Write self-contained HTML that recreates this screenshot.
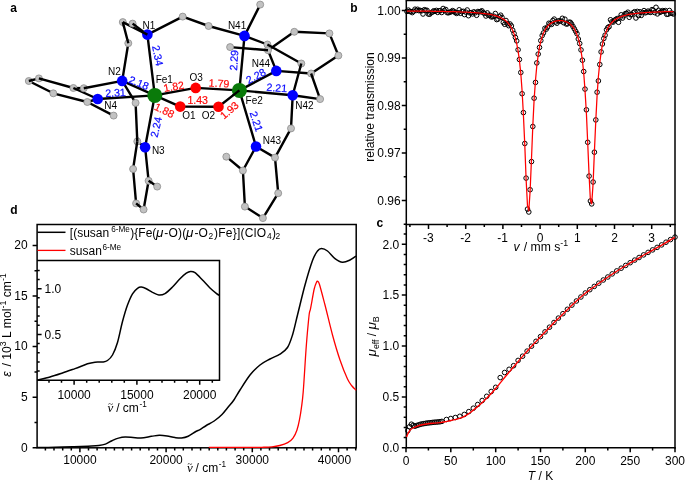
<!DOCTYPE html><html><head><meta charset="utf-8"><title>Figure</title>
<style>html,body{margin:0;padding:0;background:#fff}svg{display:block;will-change:transform}text{font-family:"Liberation Sans", Arial, sans-serif;fill:#000;stroke:none;stroke-width:0.2px}</style></head><body>
<svg width="685" height="480" viewBox="0 0 685 480">
<rect width="685" height="480" fill="#fff"/>
<g stroke="#000" stroke-width="2.4" stroke-linecap="round" fill="none">
<line x1="154.8" y1="95.4" x2="147.4" y2="34.6"/>
<line x1="154.8" y1="95.4" x2="122.2" y2="80.9"/>
<line x1="154.8" y1="95.4" x2="97.7" y2="99.0"/>
<line x1="154.8" y1="95.4" x2="145.1" y2="147.2"/>
<line x1="154.8" y1="95.4" x2="195.7" y2="87.9"/>
<line x1="154.8" y1="95.4" x2="180.2" y2="106.6"/>
<line x1="180.2" y1="106.6" x2="218.5" y2="106.7"/>
<line x1="195.7" y1="87.9" x2="239.4" y2="90.4"/>
<line x1="218.5" y1="106.7" x2="239.4" y2="90.4"/>
<line x1="239.4" y1="90.4" x2="244.5" y2="35.9"/>
<line x1="239.4" y1="90.4" x2="276.3" y2="70.9"/>
<line x1="239.4" y1="90.4" x2="292.7" y2="95.2"/>
<line x1="239.4" y1="90.4" x2="256.0" y2="146.5"/>
<line x1="147.4" y1="34.6" x2="122.8" y2="22.1"/>
<line x1="147.4" y1="34.6" x2="132.6" y2="23.6"/>
<line x1="122.8" y1="22.1" x2="128.3" y2="43.2"/>
<line x1="128.3" y1="43.2" x2="122.2" y2="80.9"/>
<line x1="122.2" y1="80.9" x2="83.8" y2="88.2"/>
<line x1="83.8" y1="88.2" x2="73.4" y2="88.0"/>
<line x1="122.2" y1="80.9" x2="135.6" y2="102.9"/>
<line x1="135.6" y1="102.9" x2="137.3" y2="141.4"/>
<line x1="28.8" y1="81.0" x2="38.9" y2="78.4"/>
<line x1="38.9" y1="78.4" x2="73.4" y2="88.0"/>
<line x1="73.4" y1="88.0" x2="97.7" y2="99.0"/>
<line x1="28.8" y1="81.0" x2="53.3" y2="93.3"/>
<line x1="53.3" y1="93.3" x2="87.3" y2="102.0"/>
<line x1="87.3" y1="102.0" x2="97.7" y2="99.0"/>
<line x1="87.3" y1="102.0" x2="113.6" y2="115.6"/>
<line x1="137.3" y1="141.4" x2="145.1" y2="147.2"/>
<line x1="137.3" y1="141.4" x2="133.1" y2="169.0"/>
<line x1="133.1" y1="169.0" x2="136.1" y2="203.4"/>
<line x1="136.1" y1="203.4" x2="143.6" y2="209.5"/>
<line x1="143.6" y1="209.5" x2="148.6" y2="180.8"/>
<line x1="148.6" y1="180.8" x2="145.1" y2="147.2"/>
<line x1="148.6" y1="180.8" x2="157.2" y2="186.6"/>
<line x1="147.4" y1="34.6" x2="182.7" y2="16.6"/>
<line x1="182.7" y1="16.6" x2="208.6" y2="26.0"/>
<line x1="208.6" y1="26.0" x2="244.5" y2="35.9"/>
<line x1="244.5" y1="35.9" x2="260.2" y2="4.6"/>
<line x1="244.5" y1="35.9" x2="267.4" y2="44.5"/>
<line x1="267.4" y1="44.5" x2="301.3" y2="63.5"/>
<line x1="301.3" y1="63.5" x2="292.7" y2="95.2"/>
<line x1="230.1" y1="47.1" x2="268.0" y2="50.2"/>
<line x1="268.0" y1="50.2" x2="276.3" y2="70.9"/>
<line x1="268.0" y1="50.2" x2="294.3" y2="31.8"/>
<line x1="294.3" y1="31.8" x2="329.4" y2="33.4"/>
<line x1="329.4" y1="33.4" x2="338.4" y2="55.5"/>
<line x1="338.4" y1="55.5" x2="311.1" y2="73.5"/>
<line x1="311.1" y1="73.5" x2="276.3" y2="70.9"/>
<line x1="311.1" y1="73.5" x2="320.1" y2="99.1"/>
<line x1="292.7" y1="95.2" x2="320.1" y2="99.1"/>
<line x1="292.7" y1="95.2" x2="291.0" y2="128.4"/>
<line x1="291.0" y1="128.4" x2="275.0" y2="157.6"/>
<line x1="275.0" y1="157.6" x2="256.0" y2="146.5"/>
<line x1="256.0" y1="146.5" x2="242.9" y2="170.5"/>
<line x1="242.9" y1="170.5" x2="226.3" y2="156.7"/>
<line x1="242.9" y1="170.5" x2="244.9" y2="206.6"/>
<line x1="244.9" y1="206.6" x2="262.9" y2="218.1"/>
<line x1="262.9" y1="218.1" x2="278.2" y2="193.2"/>
<line x1="278.2" y1="193.2" x2="275.0" y2="157.6"/>
</g>
<circle cx="154.8" cy="95.4" r="7.5" fill="#0a7a0a"/>
<circle cx="239.4" cy="90.4" r="7.5" fill="#0a7a0a"/>
<circle cx="195.7" cy="87.9" r="5.3" fill="#ff0000"/>
<circle cx="180.2" cy="106.6" r="5.3" fill="#ff0000"/>
<circle cx="218.5" cy="106.7" r="5.3" fill="#ff0000"/>
<circle cx="147.4" cy="34.6" r="5.3" fill="#0000ff"/>
<circle cx="122.2" cy="80.9" r="5.3" fill="#0000ff"/>
<circle cx="97.7" cy="99.0" r="5.3" fill="#0000ff"/>
<circle cx="145.1" cy="147.2" r="5.3" fill="#0000ff"/>
<circle cx="244.5" cy="35.9" r="5.3" fill="#0000ff"/>
<circle cx="276.3" cy="70.9" r="5.3" fill="#0000ff"/>
<circle cx="292.7" cy="95.2" r="5.3" fill="#0000ff"/>
<circle cx="256.0" cy="146.5" r="5.3" fill="#0000ff"/>
<circle cx="122.8" cy="22.1" r="3.5" fill="#c2c2c2" stroke="#8c8c8c" stroke-width="0.8"/>
<circle cx="132.6" cy="23.6" r="3.5" fill="#c2c2c2" stroke="#8c8c8c" stroke-width="0.8"/>
<circle cx="128.3" cy="43.2" r="3.5" fill="#c2c2c2" stroke="#8c8c8c" stroke-width="0.8"/>
<circle cx="28.8" cy="81.0" r="3.5" fill="#c2c2c2" stroke="#8c8c8c" stroke-width="0.8"/>
<circle cx="38.9" cy="78.4" r="3.5" fill="#c2c2c2" stroke="#8c8c8c" stroke-width="0.8"/>
<circle cx="53.3" cy="93.3" r="3.5" fill="#c2c2c2" stroke="#8c8c8c" stroke-width="0.8"/>
<circle cx="73.4" cy="88.0" r="3.5" fill="#c2c2c2" stroke="#8c8c8c" stroke-width="0.8"/>
<circle cx="83.8" cy="88.2" r="3.5" fill="#c2c2c2" stroke="#8c8c8c" stroke-width="0.8"/>
<circle cx="87.3" cy="102.0" r="3.5" fill="#c2c2c2" stroke="#8c8c8c" stroke-width="0.8"/>
<circle cx="113.6" cy="115.6" r="3.5" fill="#c2c2c2" stroke="#8c8c8c" stroke-width="0.8"/>
<circle cx="135.6" cy="102.9" r="3.5" fill="#c2c2c2" stroke="#8c8c8c" stroke-width="0.8"/>
<circle cx="137.3" cy="141.4" r="3.5" fill="#c2c2c2" stroke="#8c8c8c" stroke-width="0.8"/>
<circle cx="133.1" cy="169.0" r="3.5" fill="#c2c2c2" stroke="#8c8c8c" stroke-width="0.8"/>
<circle cx="148.6" cy="180.8" r="3.5" fill="#c2c2c2" stroke="#8c8c8c" stroke-width="0.8"/>
<circle cx="157.2" cy="186.6" r="3.5" fill="#c2c2c2" stroke="#8c8c8c" stroke-width="0.8"/>
<circle cx="136.1" cy="203.4" r="3.5" fill="#c2c2c2" stroke="#8c8c8c" stroke-width="0.8"/>
<circle cx="143.6" cy="209.5" r="3.5" fill="#c2c2c2" stroke="#8c8c8c" stroke-width="0.8"/>
<circle cx="182.7" cy="16.6" r="3.5" fill="#c2c2c2" stroke="#8c8c8c" stroke-width="0.8"/>
<circle cx="208.6" cy="26.0" r="3.5" fill="#c2c2c2" stroke="#8c8c8c" stroke-width="0.8"/>
<circle cx="260.2" cy="4.6" r="3.5" fill="#c2c2c2" stroke="#8c8c8c" stroke-width="0.8"/>
<circle cx="230.1" cy="47.1" r="3.5" fill="#c2c2c2" stroke="#8c8c8c" stroke-width="0.8"/>
<circle cx="267.4" cy="44.5" r="3.5" fill="#c2c2c2" stroke="#8c8c8c" stroke-width="0.8"/>
<circle cx="268.0" cy="50.2" r="3.5" fill="#c2c2c2" stroke="#8c8c8c" stroke-width="0.8"/>
<circle cx="294.3" cy="31.8" r="3.5" fill="#c2c2c2" stroke="#8c8c8c" stroke-width="0.8"/>
<circle cx="329.4" cy="33.4" r="3.5" fill="#c2c2c2" stroke="#8c8c8c" stroke-width="0.8"/>
<circle cx="338.4" cy="55.5" r="3.5" fill="#c2c2c2" stroke="#8c8c8c" stroke-width="0.8"/>
<circle cx="301.3" cy="63.5" r="3.5" fill="#c2c2c2" stroke="#8c8c8c" stroke-width="0.8"/>
<circle cx="311.1" cy="73.5" r="3.5" fill="#c2c2c2" stroke="#8c8c8c" stroke-width="0.8"/>
<circle cx="320.1" cy="99.1" r="3.5" fill="#c2c2c2" stroke="#8c8c8c" stroke-width="0.8"/>
<circle cx="291.0" cy="128.4" r="3.5" fill="#c2c2c2" stroke="#8c8c8c" stroke-width="0.8"/>
<circle cx="275.0" cy="157.6" r="3.5" fill="#c2c2c2" stroke="#8c8c8c" stroke-width="0.8"/>
<circle cx="226.3" cy="156.7" r="3.5" fill="#c2c2c2" stroke="#8c8c8c" stroke-width="0.8"/>
<circle cx="242.9" cy="170.5" r="3.5" fill="#c2c2c2" stroke="#8c8c8c" stroke-width="0.8"/>
<circle cx="278.2" cy="193.2" r="3.5" fill="#c2c2c2" stroke="#8c8c8c" stroke-width="0.8"/>
<circle cx="244.9" cy="206.6" r="3.5" fill="#c2c2c2" stroke="#8c8c8c" stroke-width="0.8"/>
<circle cx="262.9" cy="218.1" r="3.5" fill="#c2c2c2" stroke="#8c8c8c" stroke-width="0.8"/>
<g stroke="#000" stroke-width="2.4" stroke-linecap="butt" fill="none">
<line x1="122.8" y1="22.1" x2="126.5" y2="24.0"/>
<line x1="122.8" y1="22.1" x2="123.8" y2="26.1"/>
<line x1="147.4" y1="34.6" x2="142.1" y2="31.9"/>
<line x1="128.3" y1="43.2" x2="127.3" y2="39.2"/>
<line x1="28.8" y1="81.0" x2="32.8" y2="80.0"/>
<line x1="38.9" y1="78.4" x2="42.8" y2="79.5"/>
<line x1="73.4" y1="88.0" x2="77.1" y2="89.7"/>
<line x1="83.8" y1="88.2" x2="87.8" y2="87.4"/>
<line x1="268.0" y1="50.2" x2="263.9" y2="49.9"/>
<line x1="239.4" y1="90.4" x2="233.0" y2="95.4"/>
<line x1="137.3" y1="141.4" x2="137.1" y2="137.3"/>
<line x1="137.3" y1="141.4" x2="136.7" y2="145.5"/>
<line x1="148.6" y1="180.8" x2="152.0" y2="183.1"/>
<line x1="136.1" y1="203.4" x2="139.3" y2="206.0"/>
<line x1="267.4" y1="44.5" x2="271.0" y2="46.5"/>
<line x1="132.6" y1="23.6" x2="135.9" y2="26.0"/>
<line x1="311.1" y1="73.5" x2="312.5" y2="77.4"/>
<line x1="301.3" y1="63.5" x2="300.2" y2="67.5"/>
</g>
<text x="142.6" y="28.9" font-size="10">N1</text>
<text x="108.0" y="74.6" font-size="10">N2</text>
<text x="155.7" y="82.9" font-size="10">Fe1</text>
<text x="104.2" y="108.7" font-size="10">N4</text>
<text x="151.9" y="154.0" font-size="10">N3</text>
<text x="227.9" y="28.9" font-size="10">N41</text>
<text x="251.7" y="66.5" font-size="10">N44</text>
<text x="295.2" y="108.6" font-size="10">N42</text>
<text x="245.6" y="104.0" font-size="10">Fe2</text>
<text x="189.5" y="80.8" font-size="10">O3</text>
<text x="182.2" y="119.3" font-size="10">O1</text>
<text x="201.8" y="119.3" font-size="10">O2</text>
<text x="262.7" y="143.6" font-size="10">N43</text>
<text transform="translate(157.7 55.7) rotate(78)" x="0" y="3.6" text-anchor="middle" font-size="10.6" style="fill:#0a0aff;stroke:#0a0aff">2.34</text>
<text transform="translate(138.8 82.9) rotate(22)" x="0" y="3.6" text-anchor="middle" font-size="10.6" style="fill:#0a0aff;stroke:#0a0aff">2.18</text>
<text transform="translate(115.5 92.9) rotate(-3)" x="0" y="3.6" text-anchor="middle" font-size="10.6" style="fill:#0a0aff;stroke:#0a0aff">2.31</text>
<text transform="translate(156.2 127.1) rotate(-78)" x="0" y="3.6" text-anchor="middle" font-size="10.6" style="fill:#0a0aff;stroke:#0a0aff">2.24</text>
<text transform="translate(234.1 60.3) rotate(-86)" x="0" y="3.6" text-anchor="middle" font-size="10.6" style="fill:#0a0aff;stroke:#0a0aff">2.29</text>
<text transform="translate(256.0 76.1) rotate(-28)" x="0" y="3.6" text-anchor="middle" font-size="10.6" style="fill:#0a0aff;stroke:#0a0aff">2.28</text>
<text transform="translate(276.8 87.9) rotate(4)" x="0" y="3.6" text-anchor="middle" font-size="10.6" style="fill:#0a0aff;stroke:#0a0aff">2.21</text>
<text transform="translate(256.2 121.5) rotate(72)" x="0" y="3.6" text-anchor="middle" font-size="10.6" style="fill:#0a0aff;stroke:#0a0aff">2.21</text>
<text transform="translate(173.9 86.6) rotate(-10)" x="0" y="3.6" text-anchor="middle" font-size="10.6" style="fill:#ff0a0a;stroke:#ff0a0a">1.82</text>
<text transform="translate(219.1 83.4) rotate(3)" x="0" y="3.6" text-anchor="middle" font-size="10.6" style="fill:#ff0a0a;stroke:#ff0a0a">1.79</text>
<text transform="translate(197.7 100.4) rotate(0)" x="0" y="3.6" text-anchor="middle" font-size="10.6" style="fill:#ff0a0a;stroke:#ff0a0a">1.43</text>
<text transform="translate(164.4 110.5) rotate(26)" x="0" y="3.6" text-anchor="middle" font-size="10.6" style="fill:#ff0a0a;stroke:#ff0a0a">1.88</text>
<text transform="translate(229.4 110.3) rotate(-41)" x="0" y="3.6" text-anchor="middle" font-size="10.6" style="fill:#ff0a0a;stroke:#ff0a0a">1.93</text>
<text x="10.3" y="11.8" font-size="12" font-weight="bold">a</text>
<text x="350.3" y="11.5" font-size="12" font-weight="bold">b</text>
<text x="376.5" y="227.2" font-size="12" font-weight="bold">c</text>
<text x="10.3" y="214.3" font-size="12" font-weight="bold">d</text>
<g stroke="#000" stroke-width="1.5" fill="none">
<path d="M405.6 0.6H675.7"/>
<path d="M406.3 0.6V448.5"/>
<path d="M675.0 0.6V448.5"/>
<path d="M405.6 224.4H675.7"/>
<path d="M405.6 447.8H675.7"/>
<path d="M406.3 10.5h-4.5M406.3 34.3h-2.6M406.3 58.0h-4.5M406.3 81.8h-2.6M406.3 105.5h-4.5M406.3 129.3h-2.6M406.3 153.0h-4.5M406.3 176.8h-2.6M406.3 200.5h-4.5M406.3 224.3h-2.6M428.5 224.4v4.5M465.7 224.4v4.5M502.9 224.4v4.5M540.1 224.4v4.5M577.3 224.4v4.5M614.5 224.4v4.5M651.7 224.4v4.5M409.9 224.4v2.6M447.1 224.4v2.6M484.3 224.4v2.6M521.5 224.4v2.6M558.7 224.4v2.6M595.9 224.4v2.6M633.1 224.4v2.6M670.3 224.4v2.6"/>
</g>
<text x="400.6" y="14.8" text-anchor="end" font-size="12">1.00</text>
<text x="400.6" y="62.3" text-anchor="end" font-size="12">0.99</text>
<text x="400.6" y="109.8" text-anchor="end" font-size="12">0.98</text>
<text x="400.6" y="157.3" text-anchor="end" font-size="12">0.97</text>
<text x="400.6" y="204.8" text-anchor="end" font-size="12">0.96</text>
<text x="428.3" y="241.5" text-anchor="middle" font-size="12">-3</text>
<text x="465.5" y="241.5" text-anchor="middle" font-size="12">-2</text>
<text x="502.7" y="241.5" text-anchor="middle" font-size="12">-1</text>
<text x="540.1" y="241.5" text-anchor="middle" font-size="12">0</text>
<text x="577.3" y="241.5" text-anchor="middle" font-size="12">1</text>
<text x="614.5" y="241.5" text-anchor="middle" font-size="12">2</text>
<text x="651.7" y="241.5" text-anchor="middle" font-size="12">3</text>
<text transform="translate(373.6 107) rotate(-90)" text-anchor="middle" font-size="12">relative transmission</text>
<text x="540.8" y="251.0" text-anchor="middle" font-size="12.2"><tspan font-style="italic">v</tspan><tspan dx="0.8"> / mm s</tspan><tspan dy="-5" font-size="8.8">-1</tspan></text>
<g fill="none" stroke="#000" stroke-width="1">
<circle cx="406.9" cy="11.4" r="2.3"/>
<circle cx="408.3" cy="10.1" r="2.3"/>
<circle cx="409.6" cy="11.4" r="2.3"/>
<circle cx="410.9" cy="11.6" r="2.3"/>
<circle cx="412.3" cy="12.6" r="2.3"/>
<circle cx="413.6" cy="11.4" r="2.3"/>
<circle cx="415.0" cy="9.2" r="2.3"/>
<circle cx="416.3" cy="10.4" r="2.3"/>
<circle cx="417.6" cy="9.3" r="2.3"/>
<circle cx="419.0" cy="10.7" r="2.3"/>
<circle cx="420.3" cy="10.4" r="2.3"/>
<circle cx="421.7" cy="10.8" r="2.3"/>
<circle cx="423.0" cy="14.0" r="2.3"/>
<circle cx="424.3" cy="9.7" r="2.3"/>
<circle cx="425.7" cy="10.3" r="2.3"/>
<circle cx="427.0" cy="10.3" r="2.3"/>
<circle cx="428.4" cy="14.1" r="2.3"/>
<circle cx="429.7" cy="14.2" r="2.3"/>
<circle cx="431.0" cy="12.8" r="2.3"/>
<circle cx="432.4" cy="12.1" r="2.3"/>
<circle cx="433.7" cy="10.8" r="2.3"/>
<circle cx="435.0" cy="11.4" r="2.3"/>
<circle cx="436.4" cy="10.4" r="2.3"/>
<circle cx="437.7" cy="12.4" r="2.3"/>
<circle cx="439.1" cy="10.8" r="2.3"/>
<circle cx="440.4" cy="10.7" r="2.3"/>
<circle cx="441.7" cy="12.5" r="2.3"/>
<circle cx="443.1" cy="8.5" r="2.3"/>
<circle cx="444.4" cy="10.5" r="2.3"/>
<circle cx="445.8" cy="9.5" r="2.3"/>
<circle cx="447.1" cy="12.6" r="2.3"/>
<circle cx="448.4" cy="12.8" r="2.3"/>
<circle cx="449.8" cy="12.2" r="2.3"/>
<circle cx="451.1" cy="11.8" r="2.3"/>
<circle cx="452.5" cy="10.6" r="2.3"/>
<circle cx="453.8" cy="11.3" r="2.3"/>
<circle cx="455.1" cy="12.5" r="2.3"/>
<circle cx="456.5" cy="13.4" r="2.3"/>
<circle cx="457.8" cy="12.7" r="2.3"/>
<circle cx="459.2" cy="9.8" r="2.3"/>
<circle cx="460.5" cy="13.3" r="2.3"/>
<circle cx="461.8" cy="11.6" r="2.3"/>
<circle cx="463.2" cy="11.3" r="2.3"/>
<circle cx="464.5" cy="14.6" r="2.3"/>
<circle cx="465.8" cy="12.1" r="2.3"/>
<circle cx="467.2" cy="10.0" r="2.3"/>
<circle cx="468.5" cy="15.7" r="2.3"/>
<circle cx="469.9" cy="12.9" r="2.3"/>
<circle cx="471.2" cy="12.6" r="2.3"/>
<circle cx="472.5" cy="13.9" r="2.3"/>
<circle cx="473.9" cy="11.8" r="2.3"/>
<circle cx="475.2" cy="12.8" r="2.3"/>
<circle cx="476.6" cy="15.3" r="2.3"/>
<circle cx="477.9" cy="11.5" r="2.3"/>
<circle cx="479.2" cy="11.9" r="2.3"/>
<circle cx="480.6" cy="11.5" r="2.3"/>
<circle cx="481.9" cy="10.8" r="2.3"/>
<circle cx="483.3" cy="12.8" r="2.3"/>
<circle cx="484.6" cy="13.4" r="2.3"/>
<circle cx="485.9" cy="16.0" r="2.3"/>
<circle cx="487.3" cy="12.9" r="2.3"/>
<circle cx="488.6" cy="15.3" r="2.3"/>
<circle cx="490.0" cy="15.2" r="2.3"/>
<circle cx="491.3" cy="16.9" r="2.3"/>
<circle cx="492.6" cy="16.7" r="2.3"/>
<circle cx="494.0" cy="16.2" r="2.3"/>
<circle cx="495.3" cy="13.5" r="2.3"/>
<circle cx="496.7" cy="19.6" r="2.3"/>
<circle cx="498.0" cy="19.1" r="2.3"/>
<circle cx="499.3" cy="16.7" r="2.3"/>
<circle cx="500.7" cy="15.2" r="2.3"/>
<circle cx="502.0" cy="17.4" r="2.3"/>
<circle cx="503.3" cy="22.4" r="2.3"/>
<circle cx="504.7" cy="24.3" r="2.3"/>
<circle cx="506.0" cy="20.5" r="2.3"/>
<circle cx="507.4" cy="23.6" r="2.3"/>
<circle cx="508.7" cy="25.7" r="2.3"/>
<circle cx="510.0" cy="24.0" r="2.3"/>
<circle cx="511.4" cy="25.9" r="2.3"/>
<circle cx="512.7" cy="30.2" r="2.3"/>
<circle cx="514.1" cy="33.5" r="2.3"/>
<circle cx="515.4" cy="37.4" r="2.3"/>
<circle cx="516.7" cy="40.9" r="2.3"/>
<circle cx="518.1" cy="49.8" r="2.3"/>
<circle cx="519.4" cy="59.5" r="2.3"/>
<circle cx="520.8" cy="72.5" r="2.3"/>
<circle cx="522.1" cy="93.7" r="2.3"/>
<circle cx="523.4" cy="112.6" r="2.3"/>
<circle cx="524.8" cy="143.5" r="2.3"/>
<circle cx="526.1" cy="178.1" r="2.3"/>
<circle cx="527.5" cy="209.1" r="2.3"/>
<circle cx="528.8" cy="212.0" r="2.3"/>
<circle cx="530.1" cy="189.7" r="2.3"/>
<circle cx="531.5" cy="161.6" r="2.3"/>
<circle cx="532.8" cy="126.5" r="2.3"/>
<circle cx="534.1" cy="98.2" r="2.3"/>
<circle cx="535.5" cy="82.4" r="2.3"/>
<circle cx="536.8" cy="62.9" r="2.3"/>
<circle cx="538.2" cy="54.1" r="2.3"/>
<circle cx="539.5" cy="47.4" r="2.3"/>
<circle cx="540.8" cy="40.6" r="2.3"/>
<circle cx="542.2" cy="35.5" r="2.3"/>
<circle cx="543.5" cy="32.9" r="2.3"/>
<circle cx="544.9" cy="28.3" r="2.3"/>
<circle cx="546.2" cy="29.2" r="2.3"/>
<circle cx="547.5" cy="27.1" r="2.3"/>
<circle cx="548.9" cy="23.2" r="2.3"/>
<circle cx="550.2" cy="23.8" r="2.3"/>
<circle cx="551.6" cy="24.4" r="2.3"/>
<circle cx="552.9" cy="20.5" r="2.3"/>
<circle cx="554.2" cy="19.1" r="2.3"/>
<circle cx="555.6" cy="21.9" r="2.3"/>
<circle cx="556.9" cy="23.2" r="2.3"/>
<circle cx="558.3" cy="20.9" r="2.3"/>
<circle cx="559.6" cy="20.9" r="2.3"/>
<circle cx="560.9" cy="21.1" r="2.3"/>
<circle cx="562.3" cy="18.3" r="2.3"/>
<circle cx="563.6" cy="22.7" r="2.3"/>
<circle cx="564.9" cy="19.2" r="2.3"/>
<circle cx="566.3" cy="24.0" r="2.3"/>
<circle cx="567.6" cy="23.8" r="2.3"/>
<circle cx="569.0" cy="22.2" r="2.3"/>
<circle cx="570.3" cy="22.3" r="2.3"/>
<circle cx="571.6" cy="24.0" r="2.3"/>
<circle cx="573.0" cy="26.5" r="2.3"/>
<circle cx="574.3" cy="28.8" r="2.3"/>
<circle cx="575.7" cy="31.3" r="2.3"/>
<circle cx="577.0" cy="33.7" r="2.3"/>
<circle cx="578.3" cy="39.0" r="2.3"/>
<circle cx="579.7" cy="43.5" r="2.3"/>
<circle cx="581.0" cy="49.9" r="2.3"/>
<circle cx="582.4" cy="60.2" r="2.3"/>
<circle cx="583.7" cy="71.5" r="2.3"/>
<circle cx="585.0" cy="89.1" r="2.3"/>
<circle cx="586.4" cy="109.8" r="2.3"/>
<circle cx="587.7" cy="142.3" r="2.3"/>
<circle cx="589.1" cy="176.1" r="2.3"/>
<circle cx="590.4" cy="201.0" r="2.3"/>
<circle cx="591.7" cy="203.9" r="2.3"/>
<circle cx="593.1" cy="182.0" r="2.3"/>
<circle cx="594.4" cy="152.2" r="2.3"/>
<circle cx="595.8" cy="119.9" r="2.3"/>
<circle cx="597.1" cy="92.2" r="2.3"/>
<circle cx="598.4" cy="80.9" r="2.3"/>
<circle cx="599.8" cy="64.5" r="2.3"/>
<circle cx="601.1" cy="51.9" r="2.3"/>
<circle cx="602.4" cy="44.0" r="2.3"/>
<circle cx="603.8" cy="38.5" r="2.3"/>
<circle cx="605.1" cy="35.2" r="2.3"/>
<circle cx="606.5" cy="29.8" r="2.3"/>
<circle cx="607.8" cy="27.6" r="2.3"/>
<circle cx="609.1" cy="26.7" r="2.3"/>
<circle cx="610.5" cy="19.8" r="2.3"/>
<circle cx="611.8" cy="21.8" r="2.3"/>
<circle cx="613.2" cy="22.1" r="2.3"/>
<circle cx="614.5" cy="20.3" r="2.3"/>
<circle cx="615.8" cy="19.5" r="2.3"/>
<circle cx="617.2" cy="18.5" r="2.3"/>
<circle cx="618.5" cy="22.3" r="2.3"/>
<circle cx="619.9" cy="17.9" r="2.3"/>
<circle cx="621.2" cy="14.8" r="2.3"/>
<circle cx="622.5" cy="18.1" r="2.3"/>
<circle cx="623.9" cy="15.8" r="2.3"/>
<circle cx="625.2" cy="13.7" r="2.3"/>
<circle cx="626.6" cy="13.5" r="2.3"/>
<circle cx="627.9" cy="12.2" r="2.3"/>
<circle cx="629.2" cy="17.3" r="2.3"/>
<circle cx="630.6" cy="14.8" r="2.3"/>
<circle cx="631.9" cy="14.6" r="2.3"/>
<circle cx="633.2" cy="12.7" r="2.3"/>
<circle cx="634.6" cy="11.7" r="2.3"/>
<circle cx="635.9" cy="18.0" r="2.3"/>
<circle cx="637.3" cy="11.4" r="2.3"/>
<circle cx="638.6" cy="15.6" r="2.3"/>
<circle cx="639.9" cy="11.8" r="2.3"/>
<circle cx="641.3" cy="15.4" r="2.3"/>
<circle cx="642.6" cy="12.5" r="2.3"/>
<circle cx="644.0" cy="10.6" r="2.3"/>
<circle cx="645.3" cy="12.8" r="2.3"/>
<circle cx="646.6" cy="12.2" r="2.3"/>
<circle cx="648.0" cy="11.1" r="2.3"/>
<circle cx="649.3" cy="12.1" r="2.3"/>
<circle cx="650.7" cy="12.4" r="2.3"/>
<circle cx="652.0" cy="9.6" r="2.3"/>
<circle cx="653.3" cy="10.3" r="2.3"/>
<circle cx="654.7" cy="12.6" r="2.3"/>
<circle cx="656.0" cy="7.3" r="2.3"/>
<circle cx="657.4" cy="13.9" r="2.3"/>
<circle cx="658.7" cy="10.3" r="2.3"/>
<circle cx="660.0" cy="12.3" r="2.3"/>
<circle cx="661.4" cy="11.6" r="2.3"/>
<circle cx="662.7" cy="10.6" r="2.3"/>
<circle cx="664.1" cy="11.3" r="2.3"/>
<circle cx="665.4" cy="10.6" r="2.3"/>
<circle cx="666.7" cy="14.3" r="2.3"/>
<circle cx="668.1" cy="14.2" r="2.3"/>
<circle cx="669.4" cy="10.5" r="2.3"/>
<circle cx="670.7" cy="13.2" r="2.3"/>
<circle cx="672.1" cy="13.3" r="2.3"/>
<circle cx="673.4" cy="14.0" r="2.3"/>
</g>
<polyline points="406.9,11.0 408.3,11.0 409.6,11.0 410.9,11.0 412.3,11.0 413.6,11.1 415.0,11.1 416.3,11.1 417.6,11.1 419.0,11.1 420.3,11.1 421.7,11.1 423.0,11.1 424.3,11.2 425.7,11.2 427.0,11.2 428.4,11.2 429.7,11.2 431.0,11.2 432.4,11.3 433.7,11.3 435.0,11.3 436.4,11.3 437.7,11.3 439.1,11.4 440.4,11.4 441.7,11.4 443.1,11.4 444.4,11.5 445.8,11.5 447.1,11.5 448.4,11.6 449.8,11.6 451.1,11.6 452.5,11.7 453.8,11.7 455.1,11.7 456.5,11.8 457.8,11.8 459.2,11.9 460.5,11.9 461.8,12.0 463.2,12.0 464.5,12.1 465.8,12.1 467.2,12.2 468.5,12.3 469.9,12.4 471.2,12.4 472.5,12.5 473.9,12.6 475.2,12.7 476.6,12.8 477.9,12.9 479.2,13.0 480.6,13.2 481.9,13.3 483.3,13.5 484.6,13.6 485.9,13.8 487.3,14.0 488.6,14.2 490.0,14.5 491.3,14.7 492.6,15.0 494.0,15.3 495.3,15.7 496.7,16.1 498.0,16.6 499.3,17.1 500.7,17.7 502.0,18.3 503.3,19.1 504.7,20.0 506.0,21.1 507.4,22.3 508.7,23.8 510.0,25.6 511.4,27.8 512.7,30.5 514.1,33.9 515.4,38.1 516.7,43.6 518.1,50.8 519.4,60.4 520.8,73.4 522.1,91.0 523.4,114.8 524.8,145.1 526.1,179.0 527.5,205.7 528.8,210.9 530.1,191.2 531.5,158.5 532.8,126.2 534.1,99.9 535.5,80.2 536.8,65.7 538.2,55.1 539.5,47.1 540.8,41.2 542.2,36.6 543.5,33.1 544.9,30.3 546.2,28.1 547.5,26.3 548.9,24.9 550.2,23.8 551.6,22.9 552.9,22.2 554.2,21.6 555.6,21.2 556.9,20.9 558.3,20.7 559.6,20.6 560.9,20.6 562.3,20.7 563.6,21.0 564.9,21.3 566.3,21.8 567.6,22.4 569.0,23.2 570.3,24.3 571.6,25.5 573.0,27.1 574.3,29.0 575.7,31.5 577.0,34.7 578.3,38.7 579.7,44.0 581.0,50.9 582.4,60.2 583.7,72.8 585.0,90.1 586.4,113.3 587.7,142.8 589.1,175.4 590.4,200.3 591.7,203.9 593.1,183.6 594.4,151.6 595.8,120.5 597.1,95.4 598.4,76.5 599.8,62.6 601.1,52.4 602.4,44.7 603.8,38.9 605.1,34.4 606.5,30.9 607.8,28.1 609.1,25.8 610.5,24.0 611.8,22.5 613.2,21.2 614.5,20.1 615.8,19.2 617.2,18.4 618.5,17.7 619.9,17.1 621.2,16.6 622.5,16.1 623.9,15.7 625.2,15.3 626.6,15.0 627.9,14.7 629.2,14.4 630.6,14.2 631.9,14.0 633.2,13.8 634.6,13.6 635.9,13.4 637.3,13.3 638.6,13.1 639.9,13.0 641.3,12.9 642.6,12.8 644.0,12.7 645.3,12.6 646.6,12.5 648.0,12.4 649.3,12.3 650.7,12.3 652.0,12.2 653.3,12.1 654.7,12.1 656.0,12.0 657.4,12.0 658.7,11.9 660.0,11.9 661.4,11.8 662.7,11.8 664.1,11.7 665.4,11.7 666.7,11.7 668.1,11.6 669.4,11.6 670.7,11.5 672.1,11.5 673.4,11.5" fill="none" stroke="#ff0000" stroke-width="1.25" stroke-linejoin="round"/>
<g stroke="#000" stroke-width="1.5" fill="none">
<path d="M406.3 447.8h-4.5M406.3 437.6h-2.6M406.3 427.4h-2.6M406.3 417.3h-2.6M406.3 407.1h-2.6M406.3 396.9h-4.5M406.3 386.7h-2.6M406.3 376.5h-2.6M406.3 366.4h-2.6M406.3 356.2h-2.6M406.3 346.0h-4.5M406.3 335.8h-2.6M406.3 325.6h-2.6M406.3 315.5h-2.6M406.3 305.3h-2.6M406.3 295.1h-4.5M406.3 284.9h-2.6M406.3 274.7h-2.6M406.3 264.6h-2.6M406.3 254.4h-2.6M406.3 244.2h-4.5M406.3 234.0h-2.6M406.0 447.8v4.5M428.4 447.8v2.6M450.8 447.8v4.5M473.3 447.8v2.6M495.7 447.8v4.5M518.1 447.8v2.6M540.5 447.8v4.5M562.9 447.8v2.6M585.3 447.8v4.5M607.8 447.8v2.6M630.2 447.8v4.5M652.6 447.8v2.6M675.0 447.8v4.5"/>
</g>
<text x="399.2" y="452.1" text-anchor="end" font-size="12">0.0</text>
<text x="399.2" y="401.2" text-anchor="end" font-size="12">0.5</text>
<text x="399.2" y="350.3" text-anchor="end" font-size="12">1.0</text>
<text x="399.2" y="299.4" text-anchor="end" font-size="12">1.5</text>
<text x="399.2" y="248.5" text-anchor="end" font-size="12">2.0</text>
<text x="406.0" y="465.3" text-anchor="middle" font-size="12">0</text>
<text x="450.8" y="465.3" text-anchor="middle" font-size="12">50</text>
<text x="495.7" y="465.3" text-anchor="middle" font-size="12">100</text>
<text x="540.5" y="465.3" text-anchor="middle" font-size="12">150</text>
<text x="585.3" y="465.3" text-anchor="middle" font-size="12">200</text>
<text x="630.2" y="465.3" text-anchor="middle" font-size="12">250</text>
<text x="675.0" y="465.3" text-anchor="middle" font-size="12">300</text>
<text x="540.5" y="480.0" text-anchor="middle" font-size="12"><tspan font-style="italic">T</tspan> / K</text>
<text transform="translate(376.3 336.3) rotate(-90)" text-anchor="middle" font-size="12"><tspan font-style="italic" font-size="13.5">μ</tspan><tspan dy="2.8" font-size="8.6">eff</tspan><tspan dy="-2.8"> / </tspan><tspan font-style="italic" font-size="13.5">μ</tspan><tspan dy="2.8" font-size="9">B</tspan></text>
<g fill="none" stroke="#000" stroke-width="1">
<circle cx="407.8" cy="430.7" r="2.3"/>
<circle cx="409.6" cy="426.7" r="2.3"/>
<circle cx="411.4" cy="424.2" r="2.3"/>
<circle cx="413.2" cy="425.3" r="2.3"/>
<circle cx="415.0" cy="426.2" r="2.3"/>
<circle cx="416.8" cy="425.5" r="2.3"/>
<circle cx="418.6" cy="424.9" r="2.3"/>
<circle cx="420.3" cy="424.3" r="2.3"/>
<circle cx="422.1" cy="423.9" r="2.3"/>
<circle cx="423.9" cy="423.6" r="2.3"/>
<circle cx="425.7" cy="423.3" r="2.3"/>
<circle cx="427.5" cy="423.0" r="2.3"/>
<circle cx="429.3" cy="422.8" r="2.3"/>
<circle cx="431.1" cy="422.6" r="2.3"/>
<circle cx="432.9" cy="422.4" r="2.3"/>
<circle cx="434.7" cy="422.2" r="2.3"/>
<circle cx="436.5" cy="422.1" r="2.3"/>
<circle cx="438.3" cy="421.9" r="2.3"/>
<circle cx="440.1" cy="421.7" r="2.3"/>
<circle cx="441.9" cy="421.4" r="2.3"/>
<circle cx="446.4" cy="419.5" r="2.3"/>
<circle cx="450.8" cy="418.5" r="2.3"/>
<circle cx="455.3" cy="417.5" r="2.3"/>
<circle cx="459.8" cy="416.3" r="2.3"/>
<circle cx="464.3" cy="414.4" r="2.3"/>
<circle cx="468.8" cy="411.6" r="2.3"/>
<circle cx="473.3" cy="408.2" r="2.3"/>
<circle cx="477.7" cy="404.5" r="2.3"/>
<circle cx="482.2" cy="400.5" r="2.3"/>
<circle cx="486.7" cy="396.3" r="2.3"/>
<circle cx="491.2" cy="391.5" r="2.3"/>
<circle cx="495.7" cy="387.3" r="2.3"/>
<circle cx="500.2" cy="377.6" r="2.3"/>
<circle cx="504.6" cy="372.5" r="2.3"/>
<circle cx="509.1" cy="369.3" r="2.3"/>
<circle cx="513.6" cy="365.7" r="2.3"/>
<circle cx="518.1" cy="360.4" r="2.3"/>
<circle cx="522.6" cy="356.2" r="2.3"/>
<circle cx="527.1" cy="351.1" r="2.3"/>
<circle cx="531.5" cy="346.2" r="2.3"/>
<circle cx="536.0" cy="341.3" r="2.3"/>
<circle cx="540.5" cy="336.6" r="2.3"/>
<circle cx="545.0" cy="331.9" r="2.3"/>
<circle cx="549.5" cy="327.2" r="2.3"/>
<circle cx="554.0" cy="322.5" r="2.3"/>
<circle cx="558.4" cy="318.1" r="2.3"/>
<circle cx="562.9" cy="313.7" r="2.3"/>
<circle cx="567.4" cy="309.3" r="2.3"/>
<circle cx="571.9" cy="305.1" r="2.3"/>
<circle cx="576.4" cy="301.0" r="2.3"/>
<circle cx="580.9" cy="297.0" r="2.3"/>
<circle cx="585.3" cy="293.0" r="2.3"/>
<circle cx="589.8" cy="289.7" r="2.3"/>
<circle cx="594.3" cy="286.4" r="2.3"/>
<circle cx="598.8" cy="283.2" r="2.3"/>
<circle cx="603.3" cy="280.0" r="2.3"/>
<circle cx="607.8" cy="277.0" r="2.3"/>
<circle cx="612.2" cy="273.9" r="2.3"/>
<circle cx="616.7" cy="270.9" r="2.3"/>
<circle cx="621.2" cy="268.2" r="2.3"/>
<circle cx="625.7" cy="265.4" r="2.3"/>
<circle cx="630.2" cy="262.7" r="2.3"/>
<circle cx="634.7" cy="260.1" r="2.3"/>
<circle cx="639.1" cy="257.5" r="2.3"/>
<circle cx="643.6" cy="254.9" r="2.3"/>
<circle cx="648.1" cy="252.4" r="2.3"/>
<circle cx="652.6" cy="249.9" r="2.3"/>
<circle cx="657.1" cy="247.4" r="2.3"/>
<circle cx="661.6" cy="244.9" r="2.3"/>
<circle cx="666.0" cy="242.2" r="2.3"/>
<circle cx="670.5" cy="239.6" r="2.3"/>
<circle cx="675.0" cy="237.1" r="2.3"/>
</g>
<path d="M406.5 437.0C406.8 436.4 407.4 434.6 408.0 433.5C408.6 432.4 409.2 431.2 410.0 430.3C410.8 429.4 411.9 428.6 413.0 428.0C414.1 427.4 415.4 426.9 416.7 426.4C418.0 425.9 419.3 425.4 421.0 425.0C422.7 424.6 424.7 424.3 426.7 424.0C428.7 423.7 430.8 423.5 433.0 423.3C435.2 423.1 437.8 422.9 440.0 422.6C442.2 422.3 444.3 421.9 446.0 421.6C447.7 421.3 448.5 421.0 450.0 420.7C451.5 420.4 453.3 420.0 455.0 419.6C456.7 419.2 458.6 418.7 460.0 418.2C461.4 417.7 462.4 417.3 463.5 416.8C464.6 416.3 465.4 415.8 466.7 415.0C467.9 414.2 469.3 413.3 471.0 412.0C472.7 410.7 474.9 408.9 476.7 407.4C478.4 405.9 479.8 404.7 481.5 403.2C483.2 401.7 485.0 400.0 486.7 398.3C488.4 396.6 489.8 395.0 491.5 393.2C493.2 391.4 495.0 389.3 496.7 387.3C498.4 385.3 499.8 383.4 501.5 381.4C503.2 379.3 504.2 378.0 506.7 375.0C509.2 372.0 513.4 367.1 516.7 363.2C520.0 359.3 523.4 355.5 526.7 351.8C530.0 348.1 533.4 344.5 536.7 340.9C540.0 337.3 543.6 333.6 546.7 330.4C549.8 327.2 552.9 323.9 555.1 321.6C557.3 319.4 557.5 319.3 560.0 316.9C562.5 314.4 566.0 310.8 570.2 306.9C574.4 303.0 580.3 297.4 585.3 293.3C590.3 289.2 595.4 285.9 600.4 282.3C605.4 278.8 610.5 275.3 615.5 272.0C620.5 268.7 625.6 265.7 630.6 262.7C635.6 259.7 640.7 256.9 645.7 254.0C650.7 251.2 655.9 248.4 660.8 245.6C665.6 242.8 672.5 238.8 674.8 237.4" fill="none" stroke="#ff0000" stroke-width="1.4"/>
<g stroke="#000" stroke-width="1.5" fill="none">
<rect x="37.1" y="224.5" width="319.1" height="223.3"/>
<path d="M37.1 260.5H219.5V380.2H37.1"/>
<path d="M37.1 447.8h-4.5M37.1 422.5h-2.6M37.1 397.2h-4.5M37.1 371.9h-2.6M37.1 346.6h-4.5M37.1 321.3h-2.6M37.1 296.0h-4.5M37.1 270.7h-2.6M37.1 245.4h-4.5M45.4 447.8v2.6M54.0 447.8v2.6M62.7 447.8v2.6M71.3 447.8v2.6M79.9 447.8v4.5M88.5 447.8v2.6M97.1 447.8v2.6M105.8 447.8v2.6M114.4 447.8v2.6M123.0 447.8v2.6M131.6 447.8v2.6M140.2 447.8v2.6M148.9 447.8v2.6M157.5 447.8v2.6M166.1 447.8v4.5M174.7 447.8v2.6M183.3 447.8v2.6M192.0 447.8v2.6M200.6 447.8v2.6M209.2 447.8v2.6M217.8 447.8v2.6M226.4 447.8v2.6M235.1 447.8v2.6M243.7 447.8v2.6M252.3 447.8v4.5M260.9 447.8v2.6M269.5 447.8v2.6M278.2 447.8v2.6M286.8 447.8v2.6M295.4 447.8v2.6M304.0 447.8v2.6M312.6 447.8v2.6M321.3 447.8v2.6M329.9 447.8v2.6M338.5 447.8v4.5M347.1 447.8v2.6M355.7 447.8v2.6M37.1 371.1h2.6M37.1 361.9h2.6M37.1 352.8h2.6M37.1 343.6h2.6M37.1 334.4h4.5M37.1 325.3h2.6M37.1 316.1h2.6M37.1 307.0h2.6M37.1 297.8h2.6M37.1 288.7h4.5M37.1 279.5h2.6M37.1 270.4h2.6M49.0 380.2v2.6M61.5 380.2v2.6M74.1 380.2v4.5M86.7 380.2v2.6M99.2 380.2v2.6M111.8 380.2v2.6M124.3 380.2v2.6M136.9 380.2v4.5M149.5 380.2v2.6M162.0 380.2v2.6M174.6 380.2v2.6M187.1 380.2v2.6M199.7 380.2v4.5M212.3 380.2v2.6"/>
</g>
<text x="27.6" y="451.5" text-anchor="end" font-size="12">0</text>
<text x="27.6" y="400.9" text-anchor="end" font-size="12">5</text>
<text x="27.6" y="350.3" text-anchor="end" font-size="12">10</text>
<text x="27.6" y="299.7" text-anchor="end" font-size="12">15</text>
<text x="27.6" y="249.1" text-anchor="end" font-size="12">20</text>
<text x="79.9" y="464.3" text-anchor="middle" font-size="12">10000</text>
<text x="166.1" y="464.3" text-anchor="middle" font-size="12">20000</text>
<text x="252.3" y="464.3" text-anchor="middle" font-size="12">30000</text>
<text x="334.5" y="464.3" text-anchor="middle" font-size="12">40000</text>
<text x="44.5" y="338.8" font-size="12">0.5</text>
<text x="44.5" y="293.0" font-size="12">1.0</text>
<text x="74.1" y="399.2" text-anchor="middle" font-size="12">10000</text>
<text x="136.9" y="399.2" text-anchor="middle" font-size="12">15000</text>
<text x="199.7" y="399.2" text-anchor="middle" font-size="12">20000</text>
<text x="107.6" y="411.6" font-size="13" font-style="italic" style="font-family:'Liberation Serif',serif">ν</text>
<text x="108.2" y="406.6" font-size="9" style="font-family:'Liberation Serif',serif">~</text>
<text x="116.2" y="411.6" font-size="12">/ cm<tspan dy="-4.8" dx="0.6" font-size="8.2">-1</tspan></text>
<text x="186.9" y="471.5" font-size="13" font-style="italic" style="font-family:'Liberation Serif',serif">ν</text>
<text x="187.5" y="466.5" font-size="9" style="font-family:'Liberation Serif',serif">~</text>
<text x="195.5" y="471.5" font-size="12">/ cm<tspan dy="-4.8" dx="0.6" font-size="8.2">-1</tspan></text>
<text transform="translate(10.6 325.0) rotate(-90)" text-anchor="middle" font-size="12.2"><tspan font-style="italic">ε</tspan><tspan dx="1.5"> / 10</tspan><tspan dy="-5" font-size="8.8">3</tspan><tspan dy="5"> L mol</tspan><tspan dy="-5" font-size="8.8">-1</tspan><tspan dy="5"> cm</tspan><tspan dy="-5" font-size="8.8">-1</tspan></text>
<path d="M37.5 232.3H65.5" stroke="#000" stroke-width="1.5"/>
<path d="M37.5 250.4H65.5" stroke="#ff0000" stroke-width="1.3"/>
<text x="69.8" y="236.5" font-size="12">[(susan</text>
<text x="111.2" y="231.7" font-size="8.2">6-Me</text>
<text x="130.3" y="236.5" font-size="12">){Fe(</text>
<text x="156.0" y="236.5" font-size="13.5" font-style="italic">μ</text>
<text x="164.3" y="236.5" font-size="12" letter-spacing="0.2">-O)(</text>
<text x="186.0" y="236.5" font-size="13.5" font-style="italic">μ</text>
<text x="194.4" y="236.5" font-size="12">-O</text>
<text x="208.6" y="239.3" font-size="8.4">2</text>
<text x="214.0" y="236.5" font-size="12" letter-spacing="0.25">)Fe}](ClO</text>
<text x="266.9" y="239.3" font-size="8.4">4</text>
<text x="272.0" y="236.5" font-size="12">)</text>
<text x="275.5" y="239.3" font-size="8.4">2</text>
<text x="69.8" y="254.6" font-size="12">susan</text>
<text x="102.5" y="249.8" font-size="8.2">6-Me</text>
<path d="M37.1 447.6C40.1 447.6 49.1 447.4 55.0 447.3C60.9 447.2 67.0 447.0 72.5 446.8C78.0 446.6 83.6 446.4 88.0 446.2C92.4 446.0 95.9 446.0 98.8 445.6C101.7 445.2 103.2 444.9 105.4 444.1C107.6 443.3 109.8 441.7 112.0 440.7C114.2 439.7 116.3 438.7 118.5 438.1C120.7 437.5 122.7 437.1 125.1 437.0C127.5 436.9 130.4 437.3 133.0 437.5C135.6 437.7 137.8 438.2 140.9 438.0C144.0 437.8 148.3 436.8 151.4 436.3C154.5 435.9 156.7 435.4 159.3 435.3C161.9 435.2 164.5 435.6 167.1 436.0C169.7 436.4 172.6 437.3 175.0 437.6C177.4 437.9 179.4 438.2 181.6 438.0C183.8 437.8 185.8 437.4 188.2 436.3C190.6 435.2 193.8 432.6 195.8 431.5C197.8 430.4 198.2 430.6 200.0 429.6C201.8 428.6 203.9 426.9 206.3 425.5C208.7 424.1 211.6 422.8 214.2 421.0C216.8 419.2 219.6 416.9 222.0 414.5C224.4 412.1 226.6 409.0 228.6 406.6C230.6 404.2 232.0 402.8 233.9 400.0C235.8 397.2 237.3 394.2 240.0 390.0C242.7 385.8 246.7 379.2 250.0 375.0C253.3 370.8 256.7 367.7 260.0 365.0C263.3 362.3 266.7 360.8 270.0 359.0C273.3 357.2 277.1 356.1 280.0 354.2C282.9 352.3 285.4 350.7 287.5 347.5C289.6 344.3 290.8 340.4 292.5 335.0C294.2 329.6 295.4 323.3 297.5 315.0C299.6 306.7 302.5 294.1 305.0 285.0C307.5 275.9 310.4 266.2 312.5 260.5C314.6 254.8 316.0 253.0 317.5 251.0C319.0 249.0 319.8 248.6 321.5 248.6C323.2 248.6 325.2 249.3 327.5 251.0C329.8 252.7 332.5 256.7 335.0 258.6C337.5 260.5 340.0 262.1 342.5 262.3C345.0 262.5 347.7 261.1 350.0 260.0C352.3 258.9 355.2 256.7 356.2 256.0" fill="none" stroke="#000" stroke-width="1.5"/>
<path d="M208.8 447.4C214.0 447.4 231.1 447.4 240.0 447.4C248.9 447.4 256.7 447.4 262.0 447.3C267.3 447.2 269.0 447.2 272.0 446.9C275.0 446.6 277.2 446.2 279.8 445.5C282.4 444.8 285.5 443.8 287.7 442.6C289.9 441.4 291.5 440.2 293.0 438.1C294.5 436.0 295.8 433.3 296.9 430.2C298.0 427.1 298.8 423.4 299.5 419.7C300.2 416.0 300.8 412.5 301.4 407.9C302.0 403.3 302.4 401.6 303.2 392.0C304.0 382.4 305.2 361.0 306.0 350.0C306.8 339.0 307.4 332.1 308.0 326.0C308.6 319.9 308.9 316.3 309.3 313.5C309.7 310.7 310.0 311.1 310.4 309.3C310.8 307.6 311.0 306.4 311.6 303.0C312.2 299.6 313.4 292.5 314.2 289.0C315.0 285.5 316.0 283.3 316.6 282.0C317.2 280.7 317.3 281.0 317.8 281.4C318.3 281.8 318.3 280.6 319.5 284.5C320.7 288.4 322.8 296.6 325.0 305.0C327.2 313.4 330.0 325.8 332.5 335.0C335.0 344.2 337.5 352.7 340.0 360.0C342.5 367.3 345.5 374.7 347.5 379.0C349.5 383.3 350.6 384.1 352.0 386.0C353.4 387.9 355.5 389.6 356.2 390.3" fill="none" stroke="#ff0000" stroke-width="1.3"/>
<path d="M37.1 380.0C39.2 379.5 45.8 378.2 50.0 377.0C54.2 375.8 58.3 374.4 62.5 373.0C66.7 371.6 70.8 370.1 75.0 368.6C79.2 367.1 84.2 364.9 87.5 363.8C90.8 362.7 92.5 362.5 95.0 362.2C97.5 361.9 100.4 362.3 102.5 362.0C104.6 361.7 105.8 361.7 107.5 360.5C109.2 359.3 110.8 358.0 112.5 355.0C114.2 352.0 115.8 348.1 117.5 342.5C119.2 336.9 120.8 327.8 122.5 321.5C124.2 315.2 125.8 309.6 127.5 305.0C129.2 300.4 130.8 296.6 132.5 293.8C134.2 291.0 136.0 289.4 137.5 288.3C139.0 287.2 139.8 287.0 141.3 287.1C142.8 287.2 144.4 287.8 146.3 288.7C148.2 289.6 150.4 291.3 152.5 292.4C154.6 293.4 156.7 294.8 158.8 295.0C160.9 295.2 162.7 294.9 165.0 293.6C167.3 292.3 170.0 289.5 172.5 287.0C175.0 284.5 177.7 281.1 180.0 278.8C182.3 276.5 184.6 274.4 186.3 273.2C188.1 272.0 189.1 271.5 190.5 271.4C191.9 271.3 193.0 271.2 195.0 272.6C197.0 274.0 200.0 277.4 202.5 280.0C205.0 282.6 207.7 285.8 210.0 288.0C212.3 290.2 214.7 292.1 216.3 293.3C217.9 294.6 219.0 295.1 219.5 295.5" fill="none" stroke="#000" stroke-width="1.5"/>
</svg></body></html>
